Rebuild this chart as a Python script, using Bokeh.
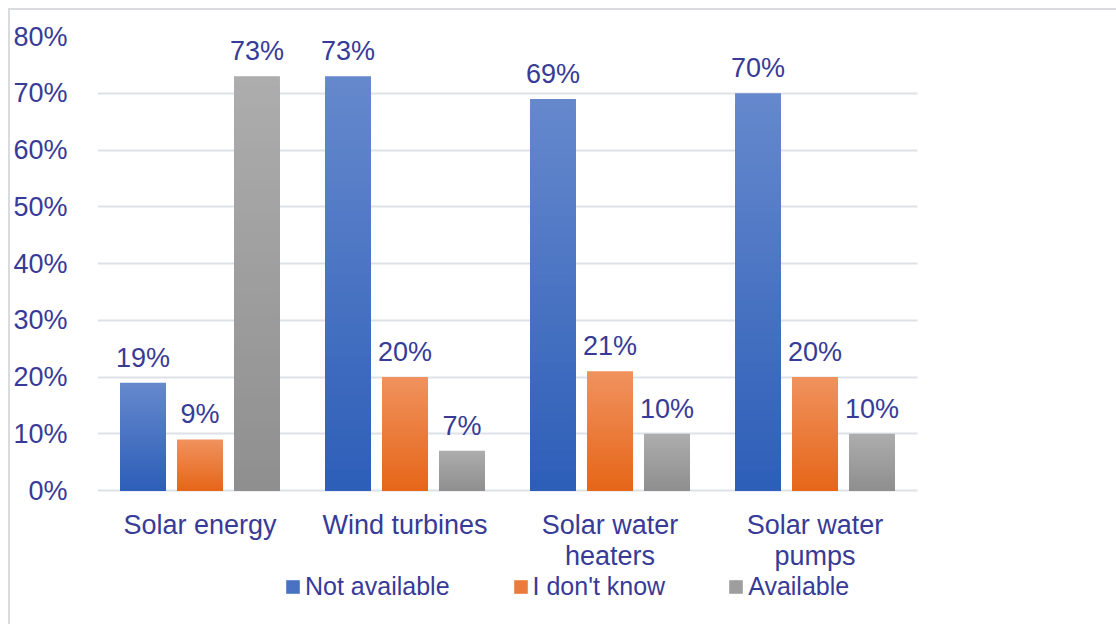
from bokeh.plotting import figure
from bokeh.models import (ColumnDataSource, Legend, LegendItem, FixedTicker,
                          NumeralTickFormatter, Range1d)
from bokeh.embed import file_html
from bokeh.resources import INLINE
from bokeh.core.properties import value

categories = ["Solar energy", "Wind turbines", "Solar water\nheaters", "Solar water\npumps"]
series_names = ["Not available", "I don't know", "Available"]
not_available = [0.19, 0.73, 0.69, 0.70]
dont_know = [0.09, 0.20, 0.21, 0.20]
available = [0.73, 0.07, 0.10, 0.10]
y_ticks = [0.0, 0.1, 0.2, 0.3, 0.4, 0.5, 0.6, 0.7, 0.8]

series_values = [not_available, dont_know, available]
# gradient colours (bottom, top) per series
grad_bottom = [(0x2D, 0x5E, 0xB8), (0xE6, 0x66, 0x19), (0x8F, 0x8F, 0x8F)]
grad_top = [(0x66, 0x89, 0xCD), (0xF0, 0x92, 0x5E), (0xAD, 0xAD, 0xAD)]
offsets = [-0.278, 0.0, 0.278]
BAR_W = 0.224
TEXT_COLOR = "#373B97"
FONT = "Liberation Sans"
N_SLICES = 40

# frame runs below the 0% line so the category labels and legend sit inside the chart area
PX_PER_UNIT = 454 / 0.8
y_start = -134 / PX_PER_UNIT

p = figure(frame_width=943, frame_height=588, output_backend="svg", toolbar_location=None,
           x_range=Range1d(-0.5, 4.1), y_range=Range1d(y_start, 0.8),
           min_border_left=86, min_border_right=77, min_border_top=26, min_border_bottom=0)
p.styles = {"margin-top": "8px", "margin-left": "8px",
            "border-top": "2px solid #D9DBDF", "border-left": "2px solid #D9DBDF"}
p.outline_line_color = None
p.background_fill_color = "white"
p.border_fill_color = "white"

legend_items = []
for s, (name, vals) in enumerate(zip(series_names, series_values)):
    xs, tops, colors = [], [], []
    for i, v in enumerate(vals):
        # tallest (lightest) first, shorter darker layers drawn over it -> vertical gradient
        for k in range(N_SLICES):
            level = (N_SLICES - k) / N_SLICES
            t = level - 0.5 / N_SLICES
            c = tuple(int(round(b + (tp - b) * t)) for b, tp in zip(grad_bottom[s], grad_top[s]))
            xs.append(i + offsets[s])
            tops.append(v * level)
            colors.append("#%02x%02x%02x" % c)
    src = ColumnDataSource(dict(x=xs, top=tops, color=colors))
    r = p.vbar(x="x", bottom=0, top="top", width=BAR_W, fill_color="color",
               line_color=None, source=src)
    legend_items.append(LegendItem(label=name, renderers=[r], index=N_SLICES // 2))

    lab_src = ColumnDataSource(dict(x=[i + offsets[s] for i in range(len(vals))], y=vals,
                                    t=["%d%%" % round(v * 100) for v in vals]))
    p.text(x="x", y="y", text="t", source=lab_src, text_align="center",
           text_baseline="alphabetic", y_offset=-25, text_color=TEXT_COLOR,
           text_font=value(FONT), text_font_size="27px")

# axes
p.yaxis.ticker = FixedTicker(ticks=y_ticks)
p.yaxis.formatter = NumeralTickFormatter(format="0%")
p.yaxis.axis_line_color = None
p.yaxis.major_tick_line_color = None
p.yaxis.minor_tick_line_color = None
p.yaxis.major_label_text_font = FONT
p.yaxis.major_label_text_font_size = "27px"
p.yaxis.major_label_text_color = TEXT_COLOR
p.yaxis.major_label_standoff = 24

p.xaxis.ticker = FixedTicker(ticks=list(range(len(categories))))
p.xaxis.major_label_overrides = {i: c for i, c in enumerate(categories)}
p.xaxis.fixed_location = 0
p.xaxis.axis_line_color = None
p.xaxis.major_tick_line_color = None
p.xaxis.minor_tick_line_color = None
p.xaxis.major_label_text_font = FONT
p.xaxis.major_label_text_font_size = "27px"
p.xaxis.major_label_text_line_height = 1.05
p.xaxis.major_label_text_color = TEXT_COLOR
p.xaxis.major_label_standoff = 13

p.xgrid.grid_line_color = None
p.ygrid.ticker = FixedTicker(ticks=y_ticks)
p.ygrid.grid_line_color = "#DEE2E8"
p.ygrid.grid_line_width = 2
try:
    p.ygrid.cross_bounds = (-0.5, len(categories) - 0.5)
except Exception:
    pass

legend = Legend(items=legend_items, orientation="horizontal", location=(187, 23),
                glyph_width=17, glyph_height=17, label_standoff=4, spacing=62,
                padding=0, margin=0, border_line_color=None,
                background_fill_alpha=0, label_text_line_height=1.0,
                label_text_font=FONT, label_text_font_size="25px",
                label_text_color=TEXT_COLOR)
p.add_layout(legend, "center")

open("out.html", "w").write(file_html(p, INLINE))
